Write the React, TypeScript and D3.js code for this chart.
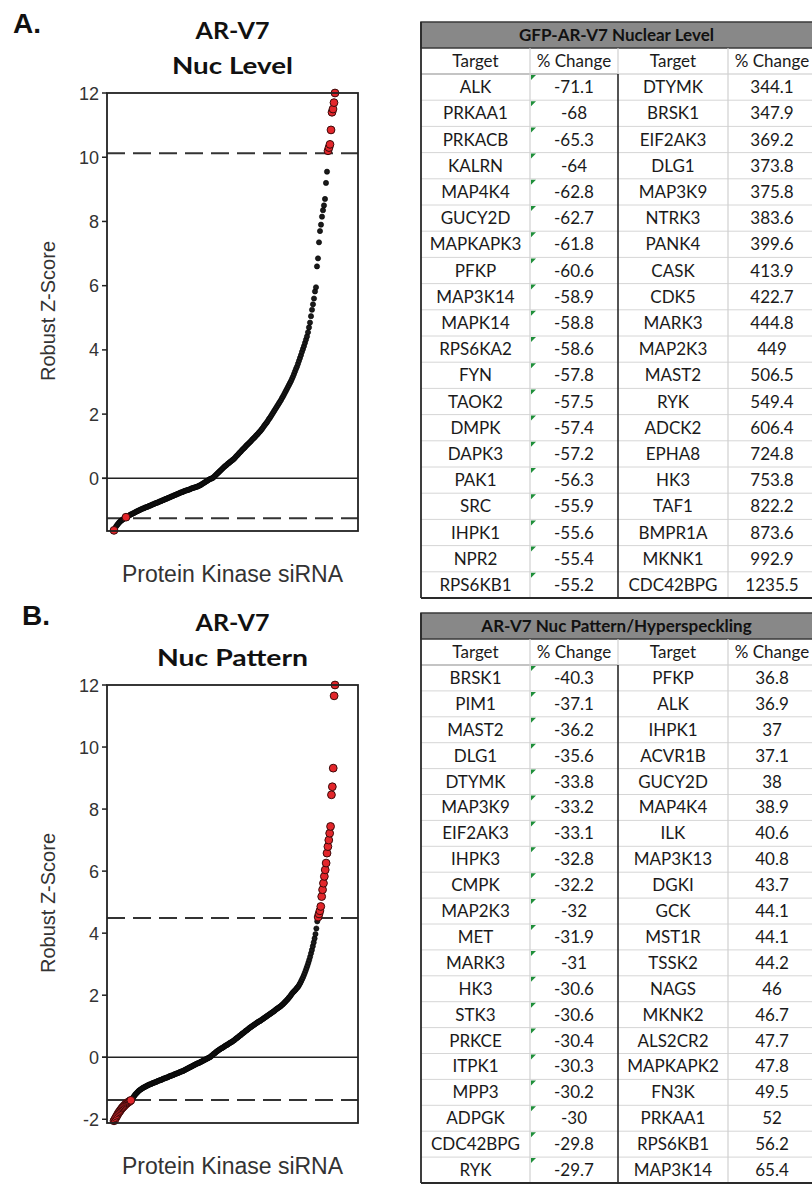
import React from 'react';
import * as d3 from 'd3';

// A: GFP-AR-V7 nuclear level, robust z-score of each kinase siRNA, sorted
const zNucLevel = [
  -1.62, -1.56, -1.5, -1.46, -1.42, -1.38, -1.35, -1.32, -1.3, -1.28, -1.25, -1.23, -1.21, -1.2,
  -1.18, -1.16, -1.14, -1.12, -1.11, -1.09, -1.08, -1.06, -1.04, -1.03, -1.01, -1.0, -0.98,
  -0.97, -0.95, -0.94, -0.93, -0.91, -0.9, -0.89, -0.88, -0.86, -0.85, -0.84, -0.82, -0.81, -0.8, -0.78, -0.77, -0.76, -0.75, -0.73, -0.72,
  -0.71, -0.69, -0.68, -0.67, -0.65, -0.64, -0.63, -0.61, -0.6, -0.59, -0.57, -0.56, -0.55, -0.53, -0.52, -0.51, -0.49, -0.48, -0.47, -0.45,
  -0.44, -0.43, -0.42, -0.4, -0.39, -0.38, -0.37, -0.36, -0.35, -0.34, -0.32, -0.31, -0.3, -0.29, -0.28, -0.27, -0.26, -0.25, -0.23, -0.22,
  -0.2, -0.18, -0.16, -0.14, -0.12, -0.1, -0.08, -0.06, -0.04, -0.02, -0.01, 0.0, 0.02,
  0.05, 0.08, 0.11, 0.14, 0.17, 0.2, 0.23, 0.26, 0.29, 0.32, 0.35, 0.38, 0.4, 0.43, 0.46, 0.48, 0.51, 0.53, 0.56, 0.58,
  0.61, 0.64, 0.68, 0.71, 0.74, 0.78, 0.81, 0.84, 0.88, 0.91, 0.94, 0.97, 1.01, 1.04,
  1.07, 1.1, 1.13, 1.16, 1.2, 1.23, 1.26, 1.29, 1.33, 1.36, 1.39, 1.43, 1.46,
  1.5, 1.54, 1.58, 1.63, 1.67, 1.71, 1.75, 1.8, 1.85, 1.89, 1.94, 1.99, 2.04,
  2.09, 2.14, 2.19, 2.24, 2.29, 2.34, 2.39, 2.44, 2.5, 2.55,
  2.61, 2.67, 2.73, 2.79, 2.85, 2.91, 2.97, 3.03, 3.1, 3.17,
  3.25, 3.33, 3.41, 3.48, 3.57, 3.66, 3.75,
  3.84, 3.94, 4.03, 4.12, 4.22, 4.32, 4.42,
  4.55, 4.7, 4.85, 5.05, 5.25, 5.42, 5.6, 5.82,
  5.95, 6.6, 6.85, 7.35, 7.7, 7.9, 8.15, 8.35, 8.5, 8.7, 9.2, 9.55,
  10.2, 10.3, 10.4, 10.85, 11.4, 11.5, 11.7, 12.0,
];

// B: AR-V7 nuclear pattern / hyperspeckling
const zNucPattern = [
  -2.05, -2.0, -1.95, -1.9, -1.85, -1.8, -1.76, -1.72, -1.68, -1.64, -1.61, -1.58, -1.55, -1.52, -1.49, -1.47, -1.45, -1.43, -1.41, -1.39,
  -1.36, -1.32, -1.28, -1.24, -1.2, -1.17, -1.14, -1.11, -1.08, -1.06, -1.04, -1.02, -1.0, -0.98, -0.97, -0.95, -0.94, -0.92, -0.91, -0.89, -0.88,
  -0.87, -0.86, -0.84, -0.83, -0.82, -0.81, -0.8, -0.79, -0.77, -0.76, -0.75, -0.74, -0.73, -0.72, -0.7, -0.69, -0.68, -0.67, -0.66,
  -0.65, -0.64, -0.62, -0.61, -0.6, -0.59, -0.58, -0.57, -0.55, -0.54, -0.53, -0.52, -0.51, -0.5, -0.48, -0.47, -0.46, -0.45,
  -0.44, -0.42, -0.41, -0.39, -0.38, -0.36, -0.35, -0.33, -0.32, -0.3, -0.29, -0.27, -0.26, -0.24, -0.23, -0.21, -0.2, -0.19, -0.18,
  -0.16, -0.15, -0.13, -0.12, -0.1, -0.09, -0.07, -0.06, -0.04, -0.03, -0.01, 0.0,
  0.02, 0.05, 0.07, 0.1, 0.12, 0.14, 0.17, 0.19,
  0.21, 0.23, 0.25, 0.27, 0.29, 0.3, 0.32, 0.34, 0.36, 0.38, 0.39, 0.41, 0.43, 0.45, 0.47, 0.48, 0.5, 0.52,
  0.54, 0.56, 0.59, 0.61, 0.63, 0.65, 0.68, 0.7, 0.72, 0.75, 0.77, 0.79, 0.81, 0.84, 0.86, 0.88, 0.9, 0.93, 0.95,
  0.97, 0.99, 1.01, 1.03, 1.05, 1.07, 1.09, 1.11, 1.13, 1.15, 1.16, 1.18, 1.2, 1.22, 1.24, 1.26, 1.28, 1.3, 1.32,
  1.34, 1.36, 1.38, 1.4, 1.42, 1.44, 1.46, 1.48, 1.5, 1.53, 1.55, 1.57, 1.59, 1.61, 1.63, 1.65, 1.68, 1.7,
  1.73, 1.76, 1.79, 1.82, 1.85, 1.88, 1.92, 1.95, 1.99, 2.03, 2.07,
  2.1, 2.13, 2.16, 2.19, 2.23, 2.26, 2.3, 2.35, 2.4,
  2.46, 2.52, 2.58, 2.65, 2.72, 2.8, 2.88, 2.96, 3.05,
  3.14, 3.24, 3.35, 3.46, 3.58, 3.7, 3.83, 3.97, 4.15, 4.38,
  4.52, 4.62, 4.72, 4.86, 5.18, 5.4, 5.61, 5.83, 6.04, 6.26, 6.58, 6.79, 7.0, 7.22, 7.44, 8.46, 8.72, 9.32, 11.65, 12.0,
];

const yTicksA = [0, 2, 4, 6, 8, 10, 12];
const yTicksB = [-2, 0, 2, 4, 6, 8, 10, 12];
const cutsA = [-1.24, 10.12];
const cutsB = [-1.38, 4.49];
const lowRedRanksA = [0, 12];

// hit tables
const levelDownTargets = ['ALK', 'PRKAA1', 'PRKACB', 'KALRN', 'MAP4K4', 'GUCY2D', 'MAPKAPK3', 'PFKP', 'MAP3K14', 'MAPK14',
  'RPS6KA2', 'FYN', 'TAOK2', 'DMPK', 'DAPK3', 'PAK1', 'SRC', 'IHPK1', 'NPR2', 'RPS6KB1'];
const levelDownChange = [-71.1, -68, -65.3, -64, -62.8, -62.7, -61.8, -60.6, -58.9, -58.8,
  -58.6, -57.8, -57.5, -57.4, -57.2, -56.3, -55.9, -55.6, -55.4, -55.2];
const levelUpTargets = ['DTYMK', 'BRSK1', 'EIF2AK3', 'DLG1', 'MAP3K9', 'NTRK3', 'PANK4', 'CASK', 'CDK5', 'MARK3',
  'MAP2K3', 'MAST2', 'RYK', 'ADCK2', 'EPHA8', 'HK3', 'TAF1', 'BMPR1A', 'MKNK1', 'CDC42BPG'];
const levelUpChange = [344.1, 347.9, 369.2, 373.8, 375.8, 383.6, 399.6, 413.9, 422.7, 444.8,
  449, 506.5, 549.4, 606.4, 724.8, 753.8, 822.2, 873.6, 992.9, 1235.5];

const patternDownTargets = ['BRSK1', 'PIM1', 'MAST2', 'DLG1', 'DTYMK', 'MAP3K9', 'EIF2AK3', 'IHPK3', 'CMPK', 'MAP2K3',
  'MET', 'MARK3', 'HK3', 'STK3', 'PRKCE', 'ITPK1', 'MPP3', 'ADPGK', 'CDC42BPG', 'RYK'];
const patternDownChange = [-40.3, -37.1, -36.2, -35.6, -33.8, -33.2, -33.1, -32.8, -32.2, -32,
  -31.9, -31, -30.6, -30.6, -30.4, -30.3, -30.2, -30, -29.8, -29.7];
const patternUpTargets = ['PFKP', 'ALK', 'IHPK1', 'ACVR1B', 'GUCY2D', 'MAP4K4', 'ILK', 'MAP3K13', 'DGKI', 'GCK',
  'MST1R', 'TSSK2', 'NAGS', 'MKNK2', 'ALS2CR2', 'MAPKAPK2', 'FN3K', 'PRKAA1', 'RPS6KB1', 'MAP3K14'];
const patternUpChange = [36.8, 36.9, 37, 37.1, 38, 38.9, 40.6, 40.8, 43.7, 44.1,
  44.1, 44.2, 46, 46.7, 47.7, 47.8, 49.5, 52, 56.2, 65.4];

const ARIAL = '"Liberation Sans", Arial, sans-serif';
const CAL = 'Lato, "Open Sans", sans-serif';

function RankPlot({ letter, letterX, top, values, ticks, yMin, cuts, isRed, title2, title2W }) {
  const left = 107, right = 358;
  const bottom = top + 438;
  const y = d3.scaleLinear().domain([yMin, 12]).range([bottom, top]);
  const x = d3.scaleLinear().domain([0, values.length - 1]).range([114, 335]);
  const pts = values.map((v, i) => ({ i, v, red: isRed(i, v) }));
  const cx = (left + right) / 2;
  const cy = (top + bottom) / 2;

  return (
    <g>
      <text x={letterX} y={top - 60} fontFamily={ARIAL} fontWeight="bold" fontSize={28} fill="#111">{letter}</text>
      <text x={cx} y={top - 54} textAnchor="middle" fontFamily={CAL} fontWeight="bold" fontSize={22}
        textLength={74} lengthAdjust="spacingAndGlyphs" fill="#111">AR-V7</text>
      <text x={cx} y={top - 19} textAnchor="middle" fontFamily={CAL} fontWeight="bold" fontSize={23}
        textLength={title2W} lengthAdjust="spacingAndGlyphs" fill="#111">{title2}</text>

      {ticks.map(t => (
        <g key={t}>
          <line x1={left - 5} x2={left} y1={y(t)} y2={y(t)} stroke="#222" strokeWidth={1.5} />
          <text x={99} y={y(t) + 6.5} textAnchor="end" fontFamily={ARIAL} fontSize={18} fill="#333">{t}</text>
        </g>
      ))}

      <line x1={left - 5} x2={right} y1={y(0)} y2={y(0)} stroke="#222" strokeWidth={1.5} />
      {cuts.map(c => (
        <line key={c} x1={left} x2={right} y1={y(c)} y2={y(c)} stroke="#333" strokeWidth={2} strokeDasharray="18,8" />
      ))}

      {pts.filter(p => !p.red).map(p => (
        <circle key={'k' + p.i} cx={x(p.i)} cy={y(p.v)} r={2.6} fill="#1a1a1a" stroke="#000" strokeWidth={0.6} />
      ))}
      {pts.filter(p => p.red).map(p => (
        <circle key={'r' + p.i} cx={x(p.i)} cy={y(p.v)} r={3.9} fill="#e3262b" stroke="#3a0a0a" strokeWidth={1} />
      ))}

      <rect x={left} y={top} width={right - left} height={bottom - top} fill="none" stroke="#222" strokeWidth={1.8} />

      <text transform={`translate(55,${cy - 1}) rotate(-90)`} textAnchor="middle" fontFamily={ARIAL} fontSize={20}
        fill="#333">Robust Z-Score</text>
      <text x={cx} y={bottom + 51} textAnchor="middle" fontFamily={ARIAL} fontSize={23} fill="#333">
        Protein Kinase siRNA
      </text>
    </g>
  );
}

function HitTable({ top, rowH, title, lt, lv, rt, rv }) {
  const cols = [421, 530, 618, 728, 816];
  const barH = 26;
  const headTop = top + barH;
  const rowsTop = headTop + 26;
  const bottom = rowsTop + rowH * lt.length;
  const mid = (a, b) => (a + b) / 2;
  const rows = d3.range(lt.length);
  const cellText = (xc, yc, s, k) => (
    <text key={k} x={xc} y={yc + 6} textAnchor="middle" fontFamily={CAL} fontSize={17} fill="#1a1a1a">{s}</text>
  );

  return (
    <g>
      <rect x={cols[0]} y={top} width={cols[4] - cols[0]} height={barH} fill="#888" stroke="#3a3a3a" strokeWidth={1.5} />
      <text x={mid(cols[0], cols[4]) - 2} y={top + barH / 2 + 6} textAnchor="middle" fontFamily={CAL} fontWeight="bold"
        fontSize={17} fill="#111">{title}</text>

      {rows.map(i => (
        <line key={'h' + i} x1={cols[0]} x2={cols[4]} y1={rowsTop + rowH * (i + 1)} y2={rowsTop + rowH * (i + 1)}
          stroke="#d6d6d6" strokeWidth={1} />
      ))}
      <line x1={cols[0]} x2={cols[2]} y1={rowsTop} y2={rowsTop} stroke="#8a8a8a" strokeWidth={1.2} />
      <line x1={cols[2]} x2={cols[4]} y1={rowsTop} y2={rowsTop} stroke="#c8c8c8" strokeWidth={1.2} />
      {[cols[1], cols[3]].map(c => (
        <line key={c} x1={c} x2={c} y1={headTop} y2={bottom} stroke="#d0d0d0" strokeWidth={1.2} />
      ))}
      <line x1={cols[2]} x2={cols[2]} y1={headTop} y2={rowsTop} stroke="#d0d0d0" strokeWidth={1.2} />
      <line x1={cols[2]} x2={cols[2]} y1={rowsTop} y2={bottom} stroke="#2a2a2a" strokeWidth={1.6} />

      {['Target', '% Change', 'Target', '% Change'].map((s, j) =>
        cellText(mid(cols[j], cols[j + 1]), headTop + 13, s, 'c' + j))}

      {rows.map(i => {
        const yc = rowsTop + rowH * (i + 0.5);
        const ry = rowsTop + rowH * i;
        return (
          <g key={'r' + i}>
            <path d={`M${cols[1] + 1},${ry + 1}h5l-5,5z`} fill="#1f8f3a" />
            {cellText(mid(cols[0], cols[1]), yc, lt[i], 'a')}
            {cellText(mid(cols[1], cols[2]), yc, String(lv[i]), 'b')}
            {cellText(mid(cols[2], cols[3]), yc, rt[i], 'c')}
            {cellText(mid(cols[3], cols[4]), yc, String(rv[i]), 'd')}
          </g>
        );
      })}

      <line x1={cols[0]} x2={cols[0]} y1={top} y2={bottom} stroke="#2a2a2a" strokeWidth={1.8} />
      <line x1={cols[0]} x2={cols[4]} y1={bottom} y2={bottom} stroke="#2a2a2a" strokeWidth={1.8} />
    </g>
  );
}

export default function App() {
  return (
    <svg width={812} height={1188} style={{ position: 'absolute', left: 0, top: 0, background: '#fff' }}>
      <rect width={812} height={1188} fill="#fff" />
      <RankPlot letter="A." letterX={13} top={93} values={zNucLevel} ticks={yTicksA} yMin={-1.64} cuts={cutsA}
        isRed={(i, v) => v >= cutsA[1] || lowRedRanksA.includes(i)} title2="Nuc Level" title2W={121} />
      <RankPlot letter="B." letterX={22} top={685} values={zNucPattern} ticks={yTicksB} yMin={-2.12} cuts={cutsB}
        isRed={(i, v) => v >= cutsB[1] || v <= cutsB[0]} title2="Nuc Pattern" title2W={151} />
      <HitTable top={22} rowH={26.2} title="GFP-AR-V7 Nuclear Level"
        lt={levelDownTargets} lv={levelDownChange} rt={levelUpTargets} rv={levelUpChange} />
      <HitTable top={613} rowH={25.9} title="AR-V7 Nuc Pattern/Hyperspeckling"
        lt={patternDownTargets} lv={patternDownChange} rt={patternUpTargets} rv={patternUpChange} />
    </svg>
  );
}
